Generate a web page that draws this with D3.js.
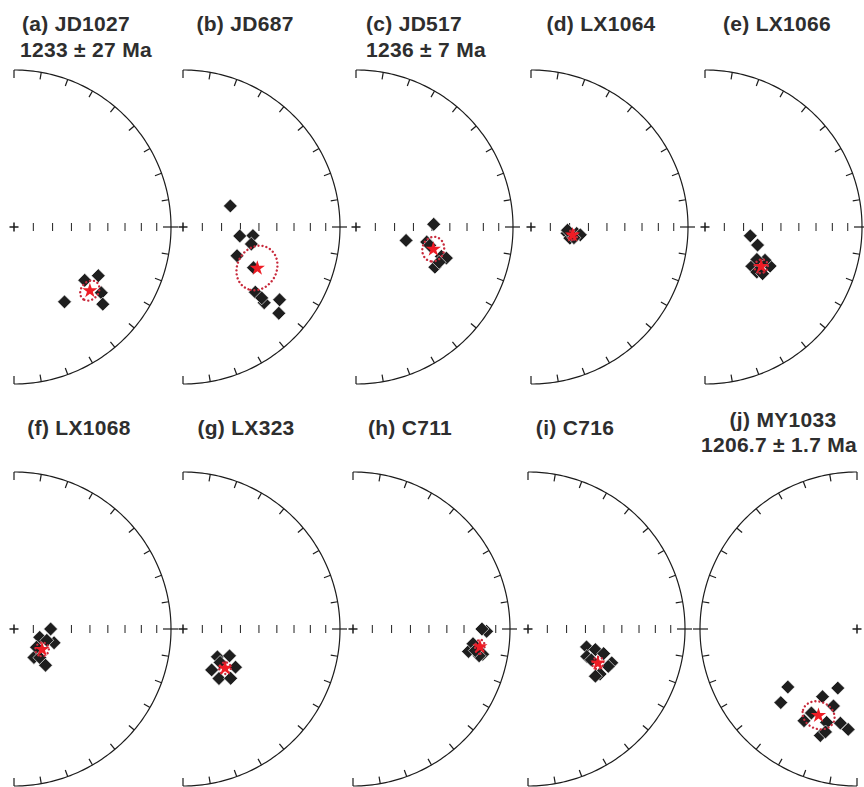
<!DOCTYPE html>
<html>
<head>
<meta charset="utf-8">
<script src="https://cdn.jsdelivr.net/npm/d3@7"></script>
<style>
  html, body { margin: 0; padding: 0; background: #fff; }
  svg { display: block; }
</style>
</head>
<body>
<svg id="chart" width="864" height="787"></svg>
<script>
// ---- Site labels ----
const panelLetters = ["a", "b", "c", "d", "e", "f", "g", "h", "i", "j"];
const siteNames = ["JD1027", "JD687", "JD517", "LX1064", "LX1066", "LX1068", "LX323", "C711", "C716", "MY1033"];
const siteAges = ["1233 ± 27 Ma", "", "1236 ± 7 Ma", "", "", "", "", "", "", "1206.7 ± 1.7 Ma"];

// ---- Site mean directions (degrees) ----
const meanDec = [130, 119, 106, 101, 125, 126, 133, 98, 116, 204];
const meanInc = [37, 45, 47.5, 68, 54, 72, 60, 19.5, 49, 39.5];
const alpha95 = [5, 11, 6, 2.5, 3.5, 3.5, 3, 3, 3, 7.7];

// ---- Specimen directions (declination / inclination, degrees) ----
const jd1027Dec = [120, 127, 127, 131, 146];
const jd1027Inc = [38, 43, 31, 26, 42];
const jd687Dec = [66, 99, 97, 104, 118, 120, 132, 133, 132, 127, 132];
const jd687Inc = [63, 60, 53, 53, 58, 47, 38, 30, 33, 24, 19];
const jd517Dec = [88, 105, 102, 104, 109, 109, 117, 113];
const jd517Inc = [49, 63, 52, 50, 42, 39, 43, 42];
const lx1064Dec = [100, 106, 98, 99, 104, 95];
const lx1064Inc = [71, 69, 66, 64, 67, 71];
const lx1066Dec = [101, 109, 130, 131, 121, 119, 129, 122];
const lx1066Inc = [66, 61, 58, 54, 50, 54, 51, 58];
const lx1068Dec = [90, 108, 109, 145, 138, 139, 129, 109];
const lx1068Inc = [71, 76, 68, 72, 70, 65, 75, 72];
const lx323Dec = [129, 120, 145, 144, 136, 126, 132];
const lx323Inc = [67, 62, 64, 58, 54, 56, 64];
const c711Dec = [91, 90, 101, 97, 101, 102, 100];
const c711Inc = [16, 19, 26, 24, 17, 19, 22];
const c716Dec = [107, 107, 115, 108, 112, 115, 122, 125, 116];
const c716Inc = [58, 53, 56, 48, 42, 43, 45, 46.5, 53];
const my1033Dec = [230, 226, 198, 207, 197, 210, 208.5, 198, 190, 185, 199, 197];
const my1033Inc = [42, 33, 57.5, 50, 47.5, 33, 39, 37.5, 39, 36, 29, 32];

// Inclination ticks along the E–W diameter
const incTicks = [80, 70, 60, 50, 40, 30, 20, 10];

const siteDecs = [jd1027Dec, jd687Dec, jd517Dec, lx1064Dec, lx1066Dec, lx1068Dec, lx323Dec, c711Dec, c716Dec, my1033Dec];
const siteIncs = [jd1027Inc, jd687Inc, jd517Inc, lx1064Inc, lx1066Inc, lx1068Inc, lx323Inc, c711Inc, c716Inc, my1033Inc];

// ---- Layout ----
const R = 157;
const rowCY = [227, 629];
const centerX = [14, 183, 356, 531, 705, 14, 183, 353, 528, 857];
const titleX = [76, 245, 414, 601, 777, 79, 246, 410, 575, 783];
const ageX = [86, 0, 426, 0, 0, 0, 0, 0, 0, 779];
const titleY = [31, 31, 31, 31, 31, 435, 435, 435, 435, 427];
const ageY = [57, 0, 57, 0, 0, 0, 0, 0, 0, 452];

const ink = "#1c1c1c";
const svg = d3.select("#chart");

panelLetters.forEach((letter, k) => {
  const cx = centerX[k];
  const cy = rowCY[k < 5 ? 0 : 1];
  const west = k === 9;            // last net shows the western half
  const g = svg.append("g").attr("class", "net net-" + letter);

  // Lower-hemisphere equal-area projection, vertical-down at the centre
  const proj = d3.geoAzimuthalEqualArea()
    .rotate([0, -90])
    .scale(R / Math.SQRT2)
    .translate([cx, cy]);
  const pt = (dec, inc) => proj([180 - dec, inc]);
  const path = d3.geoPath(proj);

  // Primitive (horizontal plane) half-circle
  const decSpan = west ? d3.range(180, 360.5, 1) : d3.range(0, 180.5, 1);
  g.append("path")
    .attr("d", d3.line()(decSpan.map(d => pt(d, 0))))
    .attr("fill", "none")
    .attr("stroke", ink)
    .attr("stroke-width", 1.2);

  // 10° ticks on the primitive
  const decTicks = west ? d3.range(190, 360, 10) : d3.range(10, 180, 10);
  decTicks.forEach(d => {
    const o = pt(d, 0);
    const f = 1 - 7 / R;
    if (d === 90 || d === 270) {
      const sgn = d === 90 ? 1 : -1;
      g.append("line")
        .attr("x1", cx + sgn * (R - 8)).attr("y1", cy)
        .attr("x2", cx + sgn * (R + 7)).attr("y2", cy)
        .attr("stroke", ink).attr("stroke-width", 1.2);
    } else {
      g.append("line")
        .attr("x1", o[0]).attr("y1", o[1])
        .attr("x2", cx + (o[0] - cx) * f).attr("y2", cy + (o[1] - cy) * f)
        .attr("stroke", ink).attr("stroke-width", 1.2);
    }
  });
  // N and S marks
  [[cy - R, 1], [cy + R, -1]].forEach(([y, s]) => {
    g.append("line")
      .attr("x1", cx).attr("y1", y)
      .attr("x2", cx).attr("y2", y + s * 8)
      .attr("stroke", ink).attr("stroke-width", 1.2);
  });

  // Centre cross
  g.append("path")
    .attr("d", `M${cx - 4.5},${cy}H${cx + 4.5}M${cx},${cy - 4.5}V${cy + 4.5}`)
    .attr("stroke", ink).attr("stroke-width", 1.5);

  // Inclination ticks along the eastern radius
  if (!west) {
    incTicks.forEach(inc => {
      const p = pt(90, inc);
      g.append("line")
        .attr("x1", p[0]).attr("y1", p[1] - 4)
        .attr("x2", p[0]).attr("y2", p[1] + 4)
        .attr("stroke", "#333").attr("stroke-width", 1.1);
    });
  }

  // Specimen directions
  const decs = siteDecs[k], incs = siteIncs[k];
  const diamond = d3.symbol(d3.symbolSquare, 96);
  g.selectAll("path.spec")
    .data(decs.map((d, n) => [d, incs[n]]))
    .join("path")
    .attr("class", "spec")
    .attr("d", diamond)
    .attr("transform", d => { const p = pt(d[0], d[1]); return `translate(${p[0]},${p[1]}) rotate(45)`; })
    .attr("fill", "#1e1e1e")
    .attr("stroke", "#fff")
    .attr("stroke-width", 0.6);

  // alpha95 confidence circle
  const circle = d3.geoCircle()
    .center([180 - meanDec[k], meanInc[k]])
    .radius(alpha95[k])
    .precision(2);
  g.append("path")
    .attr("d", path(circle()))
    .attr("fill", "none")
    .attr("stroke", "#c82a3c")
    .attr("stroke-width", 2.4)
    .attr("stroke-linecap", "round")
    .attr("stroke-dasharray", "0.01 4");

  // Site mean
  const m = pt(meanDec[k], meanInc[k]);
  g.append("path")
    .attr("d", d3.symbol(d3.symbolStar, 72)())
    .attr("transform", `translate(${m[0]},${m[1]})`)
    .attr("fill", "#ee1c25");

  // Titles
  const title = (x, y, s) => g.append("text")
    .attr("x", x).attr("y", y)
    .attr("text-anchor", "middle")
    .attr("font-family", "'Liberation Sans', Arial, sans-serif")
    .attr("font-weight", "bold")
    .attr("font-size", 21)
    .attr("letter-spacing", 0.3)
    .attr("fill", "#2e2e2e")
    .text(s);
  title(titleX[k], titleY[k], `(${letter}) ${siteNames[k]}`);
  if (siteAges[k]) title(ageX[k], ageY[k], siteAges[k]);
});
</script>
</body>
</html>
